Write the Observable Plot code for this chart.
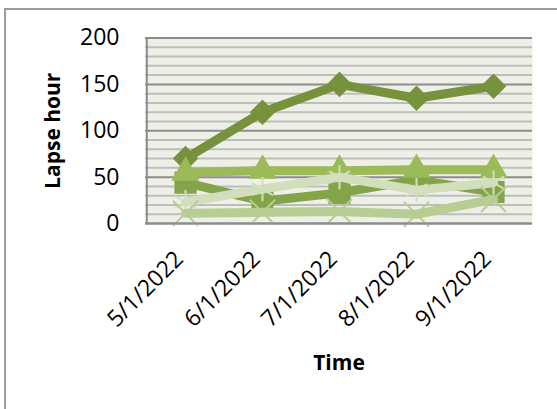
<!DOCTYPE html>
<html>
<head>
<meta charset="utf-8">
<script src="https://cdn.jsdelivr.net/npm/d3@7"></script>
<script src="https://cdn.jsdelivr.net/npm/@observablehq/plot@0.6"></script>
<style>
  html, body { margin: 0; padding: 0; background: #ffffff; overflow: hidden; }
  #wrap { position: relative; width: 557px; height: 409px; }
  #border { position: absolute; left: 4px; top: 8px; width: 600px; height: 500px;
            border-left: 2px solid #9c9c9c; border-top: 2px solid #9c9c9c; box-sizing: border-box; }
  #chart { position: absolute; left: 0; top: 0; }
</style>
</head>
<body>
<div id="wrap"><div id="border"></div><div id="chart"></div></div>
<script>
const dates = ["5/1/2022", "6/1/2022", "7/1/2022", "8/1/2022", "9/1/2022"];
const seriesDiamond = [70, 120, 150, 135, 148];
const seriesSquare = [44, 24, 33, 47, 34];
const seriesTriangle = [55, 57, 57, 58, 58];
const seriesStar = [23, 37, 50, 36, 44];
const seriesX = [11, 12, 13, 10, 26];
const yTicks = [0, 50, 100, 150, 200];
const minorTicks = [10, 20, 30, 40, 60, 70, 80, 90, 110, 120, 130, 140, 160, 170, 180, 190];

const series = [
  {vals: seriesDiamond, color: "#76923c", symbol: "diamond2", r: 11.5, filled: true},
  {vals: seriesSquare, color: "#84a44a", symbol: "square", r: 12.5, filled: true},
  {vals: seriesTriangle, color: "#9bbb59", symbol: "triangle", r: 10.5, filled: true},
  {vals: seriesStar, color: "#d2dfbd", symbol: "asterisk", r: 11.5, filled: false},
  {vals: seriesX, color: "#b7cd93", symbol: "times", r: 11.5, filled: false}
];

const marks = [
  Plot.frame({fill: "#eef0e7", stroke: "none"}),
  Plot.ruleY(minorTicks, {stroke: "#bdbdbd", strokeWidth: 2}),
  Plot.ruleY(yTicks, {stroke: "#8c8c8c", strokeWidth: 2}),
  Plot.ruleX([dates[0]], {stroke: "#8c8c8c", strokeWidth: 2, dx: -38.7}),
  Plot.text(yTicks, {y: d => d, frameAnchor: "left", textAnchor: "end", dx: -26,
    fontSize: 23, fill: "#000"}),
  Plot.text(dates, {x: d => d, frameAnchor: "bottom", rotate: -45, textAnchor: "end",
    dx: -1, dy: 37, fontSize: 23, fill: "#000"}),
  Plot.text(["Time"], {frameAnchor: "bottom", dy: 146, fontSize: 21, fontWeight: "bold", fill: "#000"}),
  Plot.text(["Lapse hour"], {frameAnchor: "left", textAnchor: "middle", dx: -92, rotate: -90,
    fontSize: 21, fontWeight: "bold", fill: "#000"})
];

for (const s of series) {
  const data = dates.map((d, i) => ({date: d, value: s.vals[i]}));
  marks.push(Plot.line(data, {x: "date", y: "value", stroke: s.color, strokeWidth: 9,
    strokeLinejoin: "round", strokeLinecap: "round"}));
  if (s.filled) {
    marks.push(Plot.dot(data, {x: "date", y: "value", symbol: () => s.symbol, r: s.r, fill: s.color, stroke: "none"}));
  } else {
    marks.push(Plot.dot(data, {x: "date", y: "value", symbol: () => s.symbol, r: s.r, fill: "none", stroke: s.color, strokeWidth: 2}));
  }
}

const chart = Plot.plot({
  width: 557,
  height: 409,
  marginLeft: 145,
  marginRight: 25,
  marginTop: 37.5,
  marginBottom: 186,
  style: {fontFamily: "'Open Sans', sans-serif", background: "transparent", overflow: "visible"},
  x: {type: "point", domain: dates, padding: 0.5, axis: null},
  y: {domain: [0, 200], axis: null},
  symbol: {type: "identity"},
  marks: marks.concat([Plot.ruleY([0], {stroke: "#8c8c8c", strokeWidth: 2})])
});
document.getElementById("chart").appendChild(chart);
</script>
</body>
</html>
